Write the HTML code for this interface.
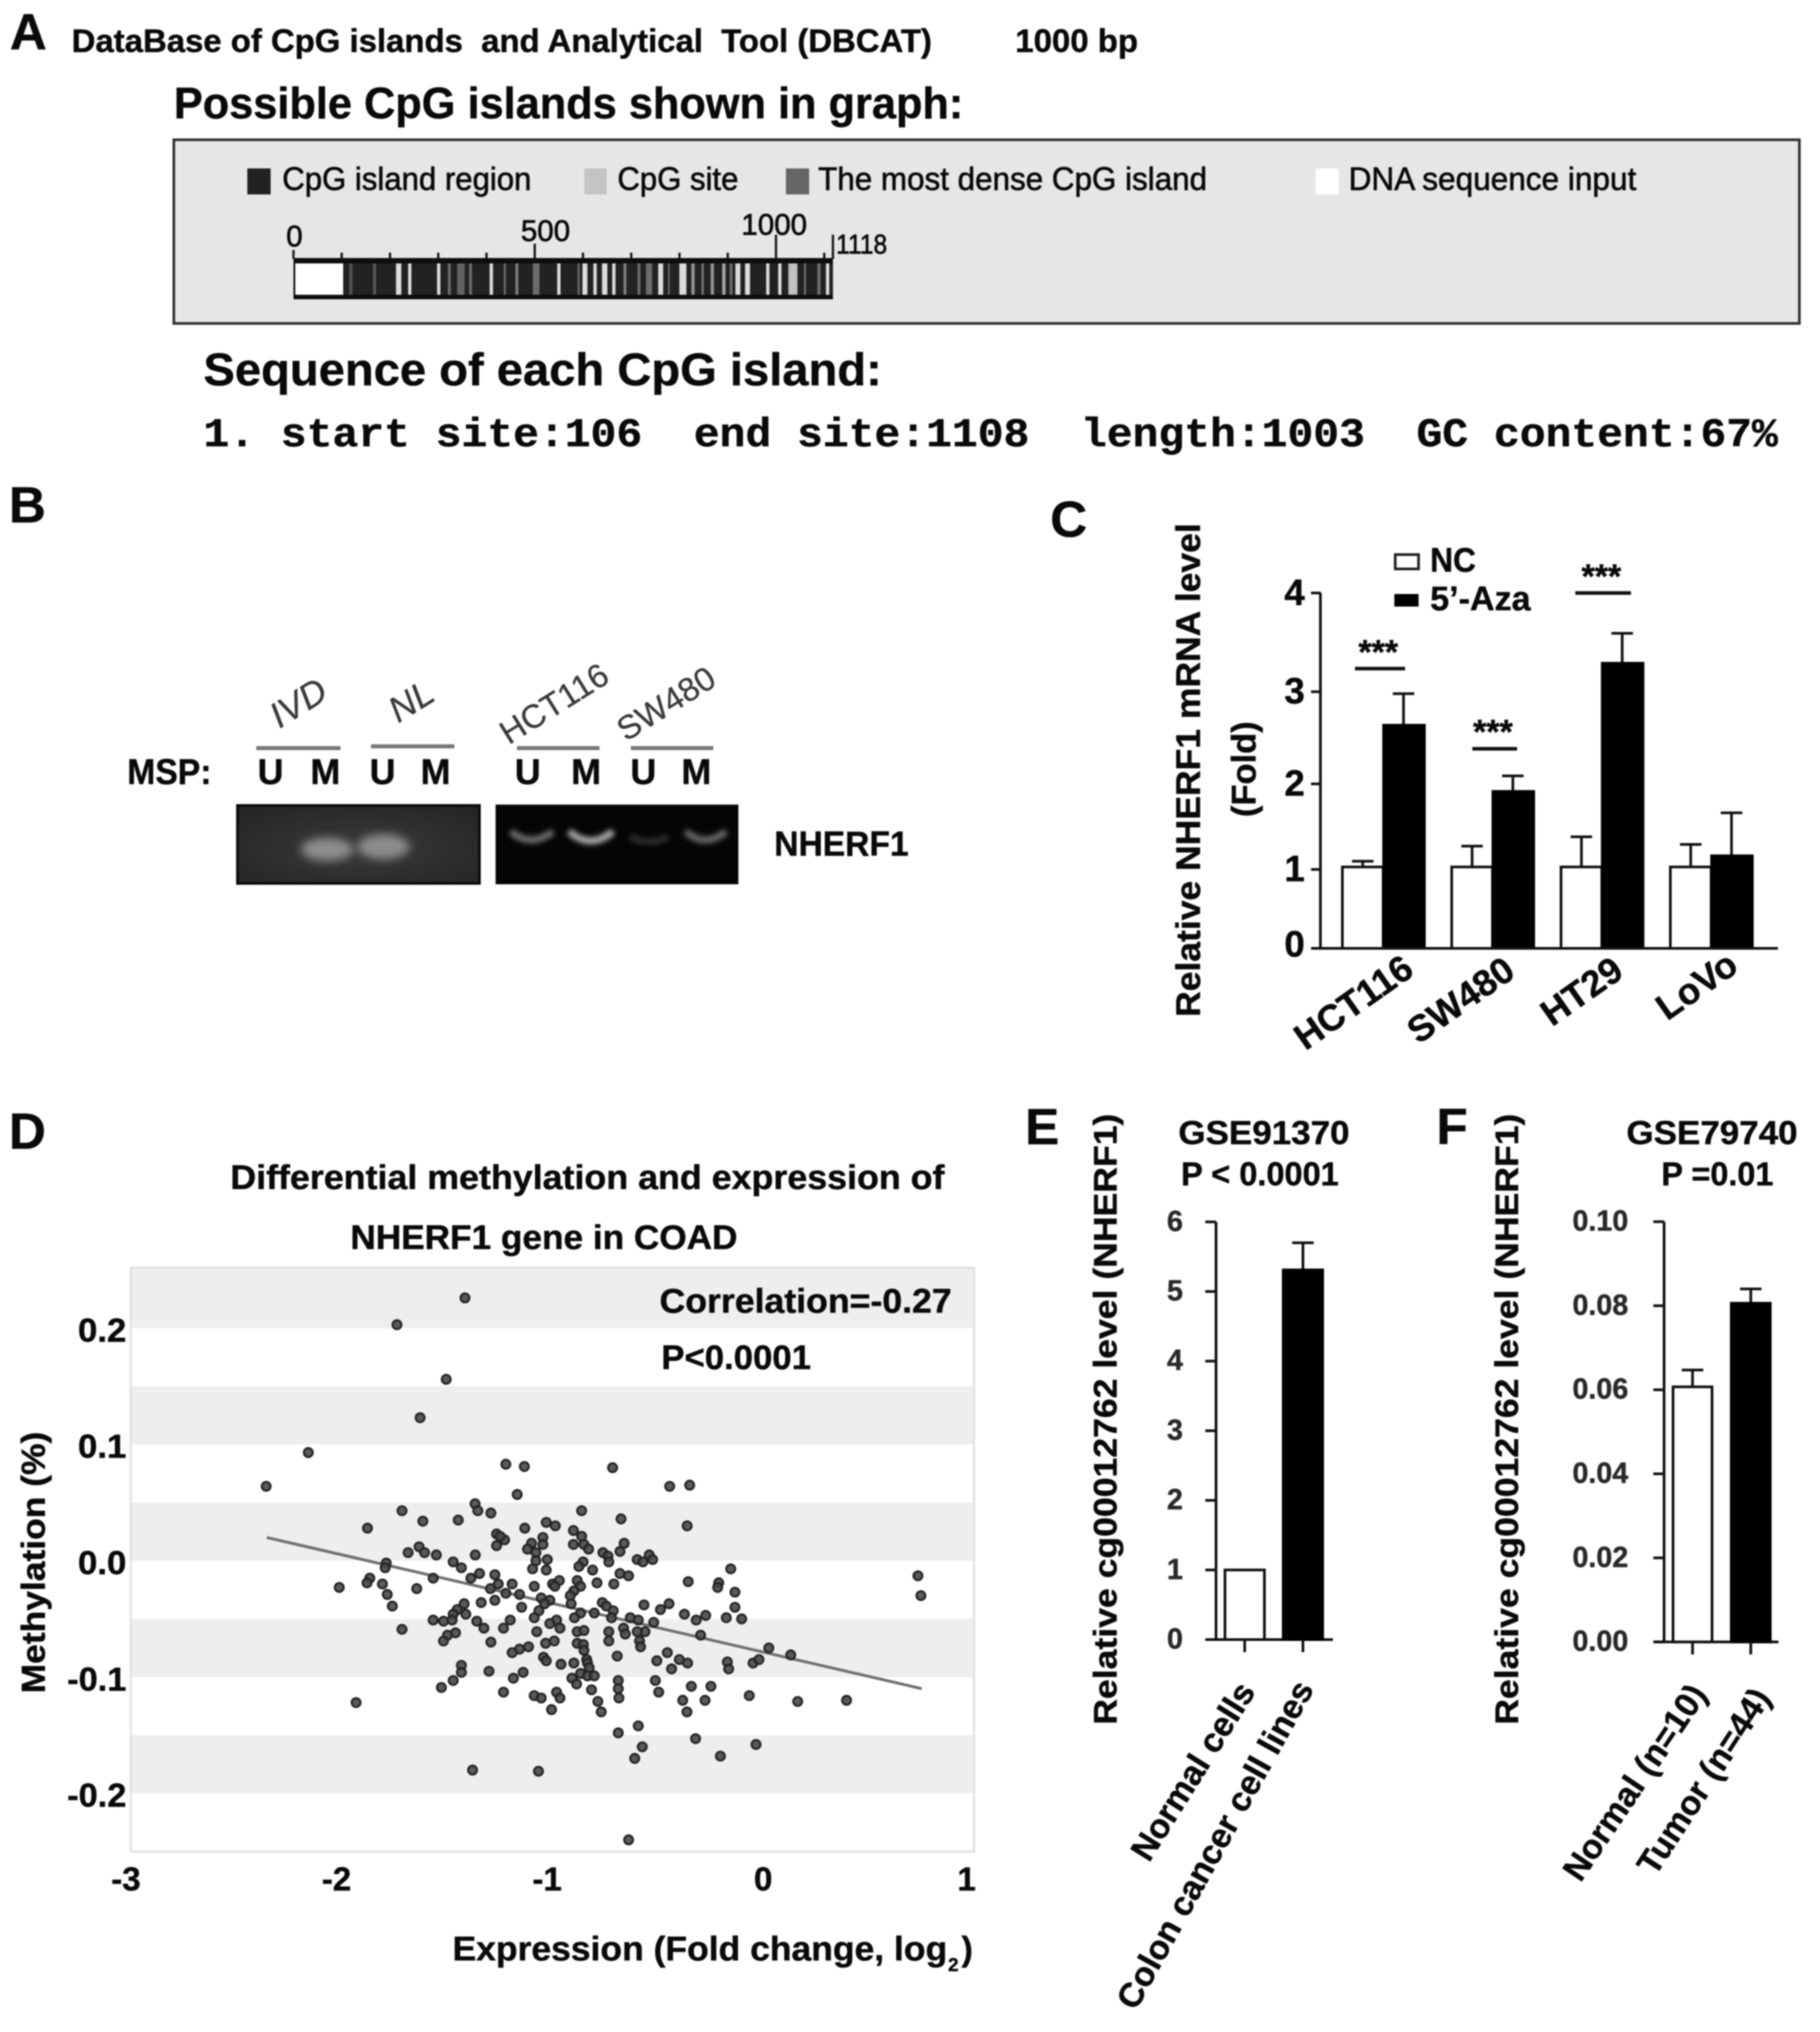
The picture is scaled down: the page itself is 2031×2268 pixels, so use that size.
<!DOCTYPE html>
<html lang="en">
<head>
<meta charset="utf-8">
<title>NHERF1 methylation figure</title>
<style>
html,body{margin:0;padding:0;background:#fff;width:2031px;height:2268px;overflow:hidden}
svg{display:block;filter:blur(.85px)}
text{font-family:"Liberation Sans",sans-serif;font-weight:bold;fill:#0a0a0a;white-space:pre;stroke:#0a0a0a;stroke-width:.5px}
.reg{font-weight:normal;stroke-width:.7px}
.panel{font-size:57px}
</style>
</head>
<body>
<svg id="fig" xmlns="http://www.w3.org/2000/svg" width="2031" height="2268" viewBox="0 0 2031 2268">
<defs>
<filter id="b4" x="-50%" y="-100%" width="200%" height="300%"><feGaussianBlur stdDeviation="5"/></filter>
<filter id="b2" x="-50%" y="-100%" width="200%" height="300%"><feGaussianBlur stdDeviation="3"/></filter>
<radialGradient id="gelLeftGlow" cx="50%" cy="55%" r="70%"><stop offset="0" stop-color="#3a3a3a"/><stop offset="1" stop-color="#242424"/></radialGradient>
</defs>
<rect width="2031" height="2268" fill="#fff"/>

<!-- PANEL A -->
<g id="panelA">
<text class="panel" x="11" y="55">A</text>
<text x="80" y="58" font-size="36" textLength="960" lengthAdjust="spacingAndGlyphs">DataBase of CpG islands  and Analytical  Tool (DBCAT)</text>
<text x="1133" y="58" font-size="36" textLength="137" lengthAdjust="spacingAndGlyphs">1000 bp</text>
<text x="194" y="132" font-size="49" textLength="881" lengthAdjust="spacingAndGlyphs">Possible CpG islands shown in graph:</text>
<rect x="194" y="156" width="1814" height="205" fill="#e6e6e6" stroke="#333" stroke-width="3"/>
<rect x="276" y="188" width="26" height="29" fill="#222"/>
<text class="reg" x="315" y="212" font-size="36" textLength="278" lengthAdjust="spacingAndGlyphs">CpG island region</text>
<rect x="652" y="188" width="25" height="29" fill="#c4c4c4"/>
<text class="reg" x="689" y="212" font-size="36" textLength="135" lengthAdjust="spacingAndGlyphs">CpG site</text>
<rect x="877" y="188" width="26" height="29" fill="#666"/>
<text class="reg" x="913" y="212" font-size="36" textLength="434" lengthAdjust="spacingAndGlyphs">The most dense CpG island</text>
<rect x="1468" y="188" width="26" height="29" fill="#fff"/>
<text class="reg" x="1505" y="212" font-size="36" textLength="321" lengthAdjust="spacingAndGlyphs">DNA sequence input</text>
<g id="ruler"></g>
<text x="227" y="430" font-size="51" textLength="757" lengthAdjust="spacingAndGlyphs">Sequence of each CpG island:</text>
<text x="227" y="498" font-size="45" style="font-family:'Liberation Mono',monospace" textLength="1757" lengthAdjust="spacingAndGlyphs">1. start site:106  end site:1108  length:1003  GC content:67%</text>
</g>

<!-- PANEL B -->
<g id="panelB">
<text class="panel" x="10" y="583">B</text>
<text class="reg" font-size="40" transform="translate(340 796) rotate(-32)" text-anchor="middle" style="fill:#3a3a3a;font-style:italic;stroke:#3a3a3a;stroke-width:.3px">IVD</text>
<text class="reg" font-size="40" transform="translate(466 794) rotate(-32)" text-anchor="middle" style="fill:#3a3a3a;font-style:italic;stroke:#3a3a3a;stroke-width:.3px">NL</text>
<text class="reg" font-size="37" transform="translate(625 796) rotate(-32)" text-anchor="middle" style="fill:#3a3a3a;font-style:normal;stroke:#3a3a3a;stroke-width:.3px">HCT116</text>
<text class="reg" font-size="37" transform="translate(750 796) rotate(-32)" text-anchor="middle" style="fill:#3a3a3a;font-style:normal;stroke:#3a3a3a;stroke-width:.3px">SW480</text>
<g stroke="#777" stroke-width="4.5">
<line x1="286" x2="380" y1="835" y2="835"/>
<line x1="414" x2="507" y1="833" y2="833"/>
<line x1="577" x2="669" y1="835" y2="835"/>
<line x1="704" x2="796" y1="835" y2="835"/>
</g>
<text x="142" y="875" font-size="40" textLength="94" lengthAdjust="spacingAndGlyphs">MSP:</text>
<g font-size="40" text-anchor="middle">
<text x="302" y="875">U</text>
<text x="363" y="875">M</text>
<text x="427" y="875">U</text>
<text x="486" y="875">M</text>
<text x="589" y="875">U</text>
<text x="654" y="875">M</text>
<text x="718" y="875">U</text>
<text x="777" y="875">M</text>
</g>
<rect x="265" y="899" width="270" height="87" fill="url(#gelLeftGlow)" stroke="#0c0c0c" stroke-width="3"/>
<ellipse cx="365" cy="948" rx="29" ry="13" fill="#8c8c8c" filter="url(#b4)"/>
<ellipse cx="428" cy="945" rx="29" ry="14" fill="#8c8c8c" filter="url(#b4)"/>
<rect x="554" y="899" width="269" height="87" fill="#050505" stroke="#0a0a0a" stroke-width="2"/>
<path d="M570 928Q593 947 617 928" fill="none" stroke="#6a6a6a" stroke-width="8" filter="url(#b2)"/>
<path d="M635 928Q659 949 684 928" fill="none" stroke="#a8a8a8" stroke-width="8" filter="url(#b2)"/>
<path d="M703 934Q724 945 745 934" fill="none" stroke="#2c2c2c" stroke-width="8" filter="url(#b2)"/>
<path d="M765 928Q787 947 810 928" fill="none" stroke="#666" stroke-width="8" filter="url(#b2)"/>
<text x="864" y="955" font-size="39" textLength="150" lengthAdjust="spacingAndGlyphs">NHERF1</text>
</g>

<!-- PANEL C -->
<g id="panelC">
<text class="panel" x="1172" y="599">C</text>
<text transform="translate(1339 1135) rotate(-90)" font-size="38" textLength="551" lengthAdjust="spacingAndGlyphs">Relative NHERF1 mRNA level</text>
<text transform="translate(1401 912) rotate(-90)" font-size="38" textLength="107" lengthAdjust="spacingAndGlyphs">(Fold)</text>
<rect x="1557" y="619" width="26" height="16" fill="#fff" stroke="#222" stroke-width="3"/>
<text x="1596" y="638" font-size="38" textLength="51" lengthAdjust="spacingAndGlyphs">NC</text>
<rect x="1556" y="663" width="27" height="14" fill="#000"/>
<text x="1596" y="681" font-size="38" textLength="112" lengthAdjust="spacingAndGlyphs">5’-Aza</text>
<g id="chartC"></g>
</g>

<!-- PANEL D -->
<g id="panelD">
<text class="panel" x="10" y="1282">D</text>
<text x="257" y="1327" font-size="38" textLength="797" lengthAdjust="spacingAndGlyphs">Differential methylation and expression of</text>
<text x="391" y="1394" font-size="38" textLength="432" lengthAdjust="spacingAndGlyphs">NHERF1 gene in COAD</text>
<g id="chartD"></g>
<text x="736" y="1465" font-size="38" textLength="326" lengthAdjust="spacingAndGlyphs">Correlation=-0.27</text>
<text x="738" y="1528" font-size="38" textLength="167" lengthAdjust="spacingAndGlyphs">P&lt;0.0001</text>
<text transform="translate(50 1890) rotate(-90)" font-size="37" textLength="292" lengthAdjust="spacingAndGlyphs">Methylation (%)</text>
<text x="505" y="2188" font-size="38" textLength="552" lengthAdjust="spacingAndGlyphs">Expression (Fold change, log</text>
<text x="1058" y="2200" font-size="21">2</text>
<text x="1073" y="2188" font-size="38">)</text>
</g>

<!-- PANEL E -->
<g id="panelE">
<text class="panel" x="1144" y="1277">E</text>
<text x="1315" y="1277" font-size="37" textLength="191" lengthAdjust="spacingAndGlyphs">GSE91370</text>
<text x="1318" y="1323" font-size="37" textLength="176" lengthAdjust="spacingAndGlyphs">P &lt; 0.0001</text>
<text transform="translate(1246 1925) rotate(-90)" font-size="36" textLength="682" lengthAdjust="spacingAndGlyphs">Relative cg00012762 level (NHERF1)</text>
<g id="chartE"></g>
</g>

<!-- PANEL F -->
<g id="panelF">
<text class="panel" x="1603" y="1277">F</text>
<text x="1815" y="1277" font-size="37" textLength="191" lengthAdjust="spacingAndGlyphs">GSE79740</text>
<text x="1854" y="1323" font-size="37" textLength="125" lengthAdjust="spacingAndGlyphs">P =0.01</text>
<text transform="translate(1694 1925) rotate(-90)" font-size="36" textLength="682" lengthAdjust="spacingAndGlyphs">Relative cg00012762 level (NHERF1)</text>
<g id="chartF"></g>
</g>
</svg>

<script>
/* ---------- Panel A data (base pairs) ---------- */
const cpgSites=[119,168,218,241,301,323,347,367,410,438,463,503,550,591,604,625,645,664,687,716,737,761,778,807,828,848,868,892,907,921,941,983,1008,1035,1060,1089,1107];
const cpgSpans=[8,7,13,8,8,7,18,7,8,5,7,16,8,5,12,8,13,8,7,7,15,12,4,17,8,5,8,8,7,12,12,8,8,22,5,8,8];
const cpgLevels=[.25,.3,1,1,1,.4,.35,.4,1,.4,.5,.4,1,.4,1,1,1,1,.5,.4,.4,1,.4,1,.6,.5,.6,.7,.4,1,1,1,1,.85,.4,.4,1];
const rulerLabels=[0,500,1000];
const sequenceLength=1118;
const inputOnlyEnd=105;

/* ---------- Panel C data ---------- */
const cCategories=['HCT116','SW480','HT29','LoVo'];
const cTicks=[0,1,2,3,4];
const cNC=[1.03,1.03,1.03,1.03];
const cNCErr=[1.10,1.28,1.39,1.30];
const cAza=[2.65,1.92,3.30,1.17];
const cAzaErr=[2.98,2.09,3.60,1.67];
const cSigLevels=[3.24,2.39,4.0];

/* ---------- Panel D data ---------- */
const dXTicks=[-3,-2,-1,0,1];
const dYTicks=[0.2,0.1,0.0,-0.1,-0.2];
const trendX=[-2.35,0.76];
const trendY=[0.02,-0.11];
const expression=[-1.409,-1.732,-1.498,-1.622,-2.153,-2.353,-1.215,-1.127,-.708,-.437,-.342,-1.161,-1.361,-1.348,-1.286,-1.708,-.855,-1.609,-1.441,-1.872,-.668,-.354,-1.125,-1.023,-.980,-.894,-.855,-1.259,-1.221,-1.259,-1.242,-1.039,-1.093,-1.039,-1.112,-1.072,-.894,-.844,-.822,-.653,-.673,-.754,-.730,-.726,-1.627,-1.601,-1.679,-1.545,-1.360,-.591,-.564,-.534,-.518,-1.465,-1.426,-1.783,-1.788,-1.072,-1.018,-1.088,-1.023,-.848,-.868,-.803,-.147,-1.340,-1.381,-1.267,-1.560,-1.861,-1.874,-1.801,-2.006,-1.638,-1.778,-1.754,-1.251,-1.185,-1.288,-1.080,-.993,-.961,-.982,-.876,-.860,-.892,-.782,-.702,-.673,-.632,-.349,-.204,-.209,-.127,-1.215,-1.150,-1.267,-1.332,-1.140,-.909,-.905,-1.047,-1.006,-1.031,-1.058,-1.413,-1.446,-1.465,-1.405,-1.560,-1.511,-1.470,-.757,-.738,-.705,-.713,-.795,-.860,-.889,-.559,-.481,-.440,-.367,-.311,-.266,-.127,-.168,-.095,-1.080,-1.194,-1.226,-1.353,-1.319,-.974,-1.006,-.958,-.624,-.586,-.513,-.656,-.648,-.554,-.591,-.726,-.726,-.580,-.575,-1.708,-1.454,-1.492,-1.511,-1.286,-.290,-1.068,-.985,-1.026,-.876,-.844,-.876,-.847,-.844,-1.107,-1.150,-1.185,-.686,-.448,-.391,-.352,-.498,-.163,-.157,-.428,-1.036,-1.023,-.953,-.892,-.831,-.827,-.819,-1.426,-1.426,-1.295,-1.465,-1.521,-1.133,-1.179,-.860,-.827,-.795,-.901,-.879,-.681,-.681,-.505,-.489,-.334,-.241,-.808,-1.226,-1.080,-1.047,-.974,-.958,-1.926,-.678,-.778,-.375,-.269,-.998,-.762,-.355,-.586,-.681,-.314,-.567,-.603,-.196,-1.373,-1.060,-.632,-.041,-.013,.034,.138,-.059,.171,.403,-.027,.742,.756];
const methylation=[.226,.203,.156,.123,.093,.064,.083,.081,.080,.064,.065,.057,.049,.043,.041,.043,.043,.034,.035,.028,.036,.030,.028,.033,.030,.026,.021,.023,.018,.013,.021,.020,.015,.014,.010,.007,.014,.014,.010,.015,.008,.007,.004,-.001,.012,.007,.007,.005,.005,.001,-.001,.005,.001,-.001,-.006,-.002,-.006,0,.001,-.007,-.008,-.001,-.005,-.008,-.007,-.011,-.015,-.012,-.015,-.015,-.019,-.020,-.023,-.024,-.029,-.039,-.020,-.020,-.024,-.022,-.020,-.017,-.022,-.017,-.022,-.026,-.019,-.020,-.011,-.013,-.018,-.019,-.023,-.027,-.028,-.029,-.034,-.036,-.040,-.030,-.037,-.032,-.034,-.037,-.043,-.037,-.042,-.046,-.046,-.051,-.052,-.051,-.036,-.039,-.043,-.049,-.045,-.045,-.049,-.038,-.042,-.037,-.046,-.051,-.047,-.040,-.049,-.050,-.049,-.051,-.058,-.052,-.058,-.051,-.054,-.058,-.049,-.051,-.053,-.058,-.063,-.061,-.061,-.061,-.069,-.069,-.074,-.059,-.062,-.064,-.069,-.070,-.064,-.061,-.069,-.071,-.061,-.060,-.071,-.072,-.077,-.074,-.076,-.079,-.082,-.079,-.085,-.088,-.086,-.087,-.093,-.093,-.083,-.086,-.089,-.088,-.085,-.088,-.092,-.090,-.096,-.095,-.103,-.109,-.096,-.101,-.097,-.099,-.099,-.101,-.106,-.103,-.110,-.103,-.113,-.108,-.108,-.111,-.113,-.116,-.118,-.113,-.118,-.122,-.118,-.121,-.120,-.120,-.128,-.130,-.130,-.142,-.148,-.153,-.160,-.170,-.168,-.180,-.181,-.240,-.088,-.085,-.075,-.081,-.116,-.121,-.120,-.158,-.013,-.030];

/* ---------- Panel E data ---------- */
const eCategories=['Normal cells','Colon cancer cell lines'];
const eTicks=[0,1,2,3,4,5,6];
const eValues=[1,5.31];
const eErrors=[null,5.70];

/* ---------- Panel F data ---------- */
const fCategories=['Normal (n=10)','Tumor (n=44)'];
const fTicks=['0.00','0.02','0.04','0.06','0.08','0.10'];
const fValues=[0.0607,0.0806];
const fErrors=[0.0647,0.084];

const NS='http://www.w3.org/2000/svg';
function mk(parent,tag,attrs,txt){
  const el=document.createElementNS(NS,tag);
  for(const k in attrs){el.setAttribute(k,attrs[k]);}
  if(txt!==undefined){el.textContent=txt;}
  parent.appendChild(el);
  return el;
}
let el;

/* ===== Panel A ruler ===== */
(function(){
  const g=document.getElementById('ruler');
  const bpX=b=>327.5+b*(602/sequenceLength);
  el=mk(g,'rect',{x:bpX(0),y:288,width:bpX(sequenceLength)-bpX(0),height:46,fill:'#0d0d0d'});
  
  
  el=mk(g,'rect',{x:bpX(0)+2,y:294,width:bpX(inputOnlyEnd)-bpX(0)-3,height:35,fill:'#fff'});
  
  
  el=mk(g,'rect',{x:bpX(inputOnlyEnd),y:294,width:bpX(sequenceLength)-bpX(inputOnlyEnd),height:35,fill:'#222'});
  
  
  cpgSites.forEach((s,i)=>{
    const lv=Math.round(34+cpgLevels[i]*186);
    el=mk(g,'rect',{x:bpX(s)-cpgSpans[i]*.23,y:294,width:cpgSpans[i]*.46,height:35,fill:'rgb('+lv+','+lv+','+lv+')'});
    
    
  });
  for(let b=0;b<=1100;b+=100){
    const top=b===0?279:(b===500?272:(b===1000?262:282));
    el=mk(g,'line',{x1:bpX(b),x2:bpX(b),y1:top,y2:289,stroke:'#111','stroke-width':2.5});
    
    
  }
  el=mk(g,'line',{x1:bpX(sequenceLength),x2:bpX(sequenceLength),y1:262,y2:289,stroke:'#111','stroke-width':2.5});
  
  
  rulerLabels.forEach(v=>{
    const by=v===0?275:(v===500?269:262);
    el=mk(g,'text',{x:bpX(v)+(v===0?1:(v===500?12:-2)),y:by,'text-anchor':'middle','font-size':33,class:'reg'},String(v));
    
    
  });
  el=mk(g,'text',{x:933,y:283,'font-size':31,class:'reg',textLength:57,lengthAdjust:'spacingAndGlyphs'},String(sequenceLength));
  
  
})();

/* ===== Panel C ===== */
(function(){
  const g=document.getElementById('chartC');
  const cY=v=>1058.5-84.4*v-3.69*v*v;
  const gx=i=>1498+122*i;
  const bw=45.5;
  const labelShift=[82,73,72,78];
  const starShift=[-3,3,2];
  cCategories.forEach((c,i)=>{
    const x1=gx(i)+bw/2, x2=gx(i)+bw+bw/2;
    el=mk(g,'line',{x1:x1,x2:x1,y1:cY(cNCErr[i]),y2:cY(cNC[i]),stroke:'#111','stroke-width':3});
    
    
    el=mk(g,'line',{x1:x1-12,x2:x1+12,y1:cY(cNCErr[i]),y2:cY(cNCErr[i]),stroke:'#111','stroke-width':3});
    
    
    el=mk(g,'rect',{x:gx(i),y:cY(cNC[i]),width:bw,height:cY(0)-cY(cNC[i]),fill:'#fff',stroke:'#111','stroke-width':3});
    
    
    el=mk(g,'line',{x1:x2,x2:x2,y1:cY(cAzaErr[i]),y2:cY(cAza[i]),stroke:'#111','stroke-width':3});
    
    
    el=mk(g,'line',{x1:x2-12,x2:x2+12,y1:cY(cAzaErr[i]),y2:cY(cAzaErr[i]),stroke:'#111','stroke-width':3});
    
    
    el=mk(g,'rect',{x:gx(i)+bw,y:cY(cAza[i]),width:bw+1,height:cY(0)-cY(cAza[i]),fill:'#000',stroke:'#000','stroke-width':2});
    
    
    el=mk(g,'text',{transform:'translate('+(gx(i)+labelShift[i])+' '+(1087+(i===3?-4:(i===0?0:2)))+') rotate(-35)','text-anchor':'end','font-size':41},c);
    
    
  });
  el=mk(g,'line',{x1:1473.5,x2:1473.5,y1:cY(4),y2:cY(0)+1,stroke:'#111','stroke-width':3});
  
  
  el=mk(g,'line',{x1:1472,x2:1984,y1:cY(0),y2:cY(0),stroke:'#111','stroke-width':3});
  
  
  cTicks.forEach(t=>{
    el=mk(g,'line',{x1:1463,x2:1474,y1:cY(t),y2:cY(t),stroke:'#111','stroke-width':3});
    
    
    el=mk(g,'text',{x:1456,y:cY(t)+(t===0?9:13),'text-anchor':'end','font-size':41},String(t));
    
    
  });
  cSigLevels.forEach((v,i)=>{
    const cx=gx(i)+45+starShift[i];
    const half=[28,25,31][i];
    el=mk(g,'line',{x1:cx-half,x2:cx+half,y1:cY(v),y2:cY(v),stroke:'#111','stroke-width':4});
    
    
    el=mk(g,'text',{x:cx-2,y:cY(v)-6,'text-anchor':'middle','font-size':38},'***');
    
    
  });
})();

/* ===== Panel D ===== */
(function(){
  const g=document.getElementById('chartD');
  const dX=v=>850+235*v;
  const dY=v=>1742-1298*v;
  const L=dX(-3)+1, R=dX(1)+2;
  el=mk(g,'rect',{x:L,y:dY(.252),width:R-L,height:dY(-.25)-dY(.252),fill:'#fff'});
  
  
  for(let k=0;k<5;k++){
    const hi=(k===0?.252:.25-k*.1), lo=.2-k*.1;
    el=mk(g,'rect',{x:L,y:dY(hi),width:R-L,height:dY(lo)-dY(hi),fill:'#eeeeee'});
    
    
  }
  el=mk(g,'rect',{x:L,y:dY(.252),width:R-L,height:dY(-.25)-dY(.252),fill:'none',stroke:'#e2e2e2','stroke-width':2.5});
  
  
  el=mk(g,'line',{x1:dX(trendX[0]),y1:dY(trendY[0]),x2:dX(trendX[1]),y2:dY(trendY[1]),stroke:'#6f6f6f','stroke-width':3.2});
  
  
  expression.forEach((x,i)=>{
    el=mk(g,'circle',{cx:dX(x),cy:dY(methylation[i]),r:5,fill:'#484848',stroke:'#222','stroke-width':2.2,'fill-opacity':.9});
    
    
  });
  dYTicks.forEach(t=>{
    el=mk(g,'text',{x:141,y:dY(t)+15,'text-anchor':'end','font-size':37,textLength:t<0?66:54,lengthAdjust:'spacingAndGlyphs'},t.toFixed(1));
    
    
  });
  dXTicks.forEach(t=>{
    el=mk(g,'text',{x:dX(t)+(t===1?4:12),y:2110,'text-anchor':'end','font-size':37},String(t));
    
    
  });
})();

/* ===== Panels E & F ===== */
function barPanel(id,cats,vals,errs,yFn,ticks,tickNum,cfg){
  const g=document.getElementById(id);
  el=mk(g,'line',{x1:cfg.axisX,x2:cfg.axisX,y1:yFn(tickNum[tickNum.length-1]),y2:yFn(0),stroke:'#111','stroke-width':3});
  
  
  el=mk(g,'line',{x1:cfg.axisX-11,x2:cfg.xEnd,y1:yFn(0),y2:yFn(0),stroke:'#111','stroke-width':3});
  
  
  ticks.forEach((t,i)=>{
    const y=yFn(tickNum[i]);
    el=mk(g,'line',{x1:cfg.axisX-12,x2:cfg.axisX,y1:y,y2:y,stroke:'#111','stroke-width':3});
    
    
    el=mk(g,'text',{x:cfg.labelX,y:y+10,'text-anchor':'end','font-size':32,style:'fill:#2a2a2a;stroke:#2a2a2a'},t);
    
    
  });
  cats.forEach((c,i)=>{
    const x=cfg.barX+i*cfg.step, mid=x+cfg.barW/2;
    if(errs[i]!==null){
      el=mk(g,'line',{x1:mid,x2:mid,y1:yFn(errs[i]),y2:yFn(vals[i]),stroke:'#111','stroke-width':3});
      
      
      el=mk(g,'line',{x1:mid-12,x2:mid+12,y1:yFn(errs[i]),y2:yFn(errs[i]),stroke:'#111','stroke-width':3});
      
      
    }
    el=mk(g,'rect',{x:x,y:yFn(vals[i]),width:cfg.barW,height:yFn(0)-yFn(vals[i]),fill:i===0?'#fff':'#000',stroke:i===0?'#111':'#000','stroke-width':3});
    
    
    el=mk(g,'line',{x1:mid,x2:mid,y1:yFn(0),y2:yFn(0)+14,stroke:'#111','stroke-width':3});
    
    
    el=mk(g,'text',{transform:'translate('+cfg.endX[i]+' '+cfg.endY[i]+') rotate(-'+cfg.angle[i]+')','text-anchor':'end','font-size':cfg.fontSize},c);
    
    
  });
}
barPanel('chartE',eCategories,eValues,eErrors,v=>1830-77.7*v,eTicks.map(String),eTicks,
  {axisX:1357,xEnd:1487.5,labelX:1320,barX:1367,barW:44,step:65,endX:[1402,1467],endY:[1888,1885],angle:[58,61],fontSize:38});
barPanel('chartF',fCategories,fValues,fErrors,v=>1832.6-4690*v,fTicks,fTicks.map(Number),
  {axisX:1857,xEnd:1984.6,labelX:1817,barX:1867,barW:43.5,step:65,endX:[1906,1977],endY:[1891,1895],angle:[56,57],fontSize:38});
</script>
</body>
</html>
